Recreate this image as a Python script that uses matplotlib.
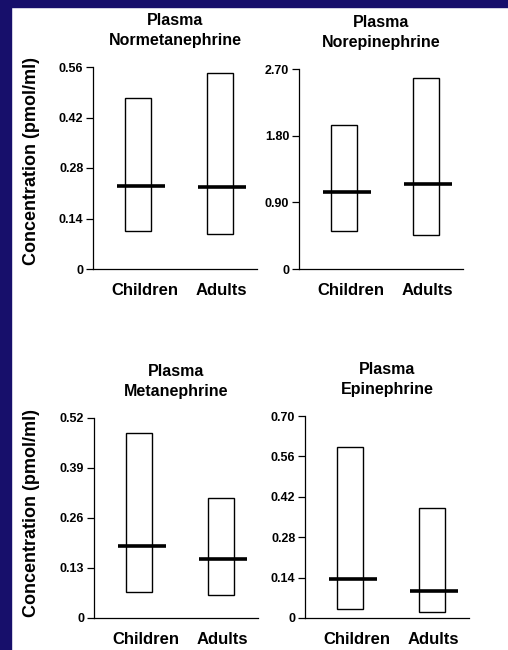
import matplotlib
matplotlib.use('Agg')
import matplotlib.pyplot as plt
from matplotlib.patches import Rectangle

plt.rcParams['font.family'] = ['Liberation Sans', 'DejaVu Sans']
plt.rcParams['font.weight'] = 'bold'

# data: range (low, high) and median per group
groups = ['Children', 'Adults']
titles = ['Plasma\nNormetanephrine', 'Plasma\nNorepinephrine',
          'Plasma\nMetanephrine', 'Plasma\nEpinephrine']
low = [[0.105, 0.097], [0.51, 0.46], [0.068, 0.060], [0.031, 0.021]]
high = [[0.474, 0.543], [1.94, 2.58], [0.481, 0.312], [0.593, 0.381]]
median = [[0.230, 0.227], [1.04, 1.15], [0.187, 0.153], [0.135, 0.094]]
yticks = [[0, 0.14, 0.28, 0.42, 0.56], [0, 0.90, 1.80, 2.70],
          [0, 0.13, 0.26, 0.39, 0.52], [0, 0.14, 0.28, 0.42, 0.56, 0.70]]
ytick_labels = [['0', '0.14', '0.28', '0.42', '0.56'], ['0', '0.90', '1.80', '2.70'],
                ['0', '0.13', '0.26', '0.39', '0.52'],
                ['0', '0.14', '0.28', '0.42', '0.56', '0.70']]

W, H = 508, 650
fig = plt.figure(figsize=(W / 100, H / 100), dpi=100)

# navy frame on left and top
fig.patches.append(Rectangle((0, 0), 11 / W, 1, transform=fig.transFigure,
                             color='#170f6b', zorder=0))
fig.patches.append(Rectangle((0, 1 - 7 / H), 1, 7 / H, transform=fig.transFigure,
                             color='#170f6b', zorder=0))

# axes boxes in pixels: left, top (y max), bottom (y=0)
boxes = [(93, 67, 269), (299, 69, 269), (94, 418, 618), (305, 416, 618)]
ax_w = 164

for i, (x0, ytop, ybot) in enumerate(boxes):
    ax = fig.add_axes([x0 / W, 1 - ybot / H, ax_w / W, (ybot - ytop) / H])
    for j in range(2):
        ax.add_patch(Rectangle((j - 0.16, low[i][j]), 0.32, high[i][j] - low[i][j],
                               facecolor='white', edgecolor='black', lw=1.0))
        ax.plot([j - 0.27, j + 0.33], [median[i][j]] * 2, color='black',
                lw=2.6, solid_capstyle='butt')
    ax.set_xlim(-0.56, 1.46)
    ax.set_ylim(0, yticks[i][-1])
    ax.set_yticks(yticks[i])
    ax.set_yticklabels(ytick_labels[i], fontsize=9, fontweight='bold')
    ax.set_xticks([0.08, 1.02])
    ax.set_xticklabels(groups, fontsize=12, fontweight='bold')
    ax.tick_params(axis='x', length=0, pad=10)
    ax.tick_params(axis='y', length=5, width=0.9, pad=2)
    for s in ['top', 'right']:
        ax.spines[s].set_visible(False)
    for s in ['left', 'bottom']:
        ax.spines[s].set_linewidth(0.9)
    ax.set_title(titles[i], fontsize=11.5, fontweight='bold', pad=16, linespacing=1.4)

fig.text(32 / W, 1 - 161 / H, 'Concentration (pmol/ml)', rotation=90,
         ha='center', va='center', fontsize=13, fontweight='bold')
fig.text(32 / W, 1 - 513 / H, 'Concentration (pmol/ml)', rotation=90,
         ha='center', va='center', fontsize=13, fontweight='bold')

fig.savefig('out.png', dpi=100, facecolor='white')
